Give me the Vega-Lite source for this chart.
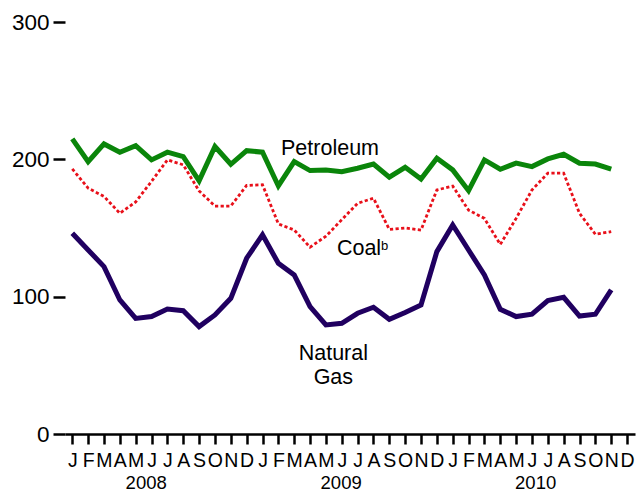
{
  "$schema": "https://vega.github.io/schema/vega-lite/v6.json",
  "autosize": {"type": "none"},
  "padding": {"left": 65, "top": 22, "right": 8, "bottom": 57},
  "width": 570,
  "height": 412,
  "config": {
    "view": {"stroke": null},
    "axis": {"grid": false},
    "font": "Liberation Sans"
  },
  "datasets": {
    "series": [
      {"series": "Petroleum", "month": 0, "value": 214.9},
      {"series": "Petroleum", "month": 1, "value": 198.3},
      {"series": "Petroleum", "month": 2, "value": 211.2},
      {"series": "Petroleum", "month": 3, "value": 205.2},
      {"series": "Petroleum", "month": 4, "value": 210.0},
      {"series": "Petroleum", "month": 5, "value": 199.6},
      {"series": "Petroleum", "month": 6, "value": 205.2},
      {"series": "Petroleum", "month": 7, "value": 202.0},
      {"series": "Petroleum", "month": 8, "value": 184.3},
      {"series": "Petroleum", "month": 9, "value": 209.3},
      {"series": "Petroleum", "month": 10, "value": 196.4},
      {"series": "Petroleum", "month": 11, "value": 206.3},
      {"series": "Petroleum", "month": 12, "value": 205.2},
      {"series": "Petroleum", "month": 13, "value": 180.6},
      {"series": "Petroleum", "month": 14, "value": 198.3},
      {"series": "Petroleum", "month": 15, "value": 191.8},
      {"series": "Petroleum", "month": 16, "value": 192.3},
      {"series": "Petroleum", "month": 17, "value": 191.0},
      {"series": "Petroleum", "month": 18, "value": 193.5},
      {"series": "Petroleum", "month": 19, "value": 196.6},
      {"series": "Petroleum", "month": 20, "value": 187.0},
      {"series": "Petroleum", "month": 21, "value": 194.2},
      {"series": "Petroleum", "month": 22, "value": 185.7},
      {"series": "Petroleum", "month": 23, "value": 200.8},
      {"series": "Petroleum", "month": 24, "value": 192.3},
      {"series": "Petroleum", "month": 25, "value": 177.2},
      {"series": "Petroleum", "month": 26, "value": 199.6},
      {"series": "Petroleum", "month": 27, "value": 192.8},
      {"series": "Petroleum", "month": 28, "value": 197.2},
      {"series": "Petroleum", "month": 29, "value": 194.7},
      {"series": "Petroleum", "month": 30, "value": 200.3},
      {"series": "Petroleum", "month": 31, "value": 203.7},
      {"series": "Petroleum", "month": 32, "value": 197.2},
      {"series": "Petroleum", "month": 33, "value": 196.6},
      {"series": "Petroleum", "month": 34, "value": 192.8},
      {"series": "Coal", "month": 0, "value": 193.0},
      {"series": "Coal", "month": 1, "value": 179.0},
      {"series": "Coal", "month": 2, "value": 173.0},
      {"series": "Coal", "month": 3, "value": 160.7},
      {"series": "Coal", "month": 4, "value": 169.0},
      {"series": "Coal", "month": 5, "value": 184.0},
      {"series": "Coal", "month": 6, "value": 199.6},
      {"series": "Coal", "month": 7, "value": 196.0},
      {"series": "Coal", "month": 8, "value": 177.0},
      {"series": "Coal", "month": 9, "value": 166.0},
      {"series": "Coal", "month": 10, "value": 166.0},
      {"series": "Coal", "month": 11, "value": 181.0},
      {"series": "Coal", "month": 12, "value": 181.5},
      {"series": "Coal", "month": 13, "value": 153.0},
      {"series": "Coal", "month": 14, "value": 148.6},
      {"series": "Coal", "month": 15, "value": 136.0},
      {"series": "Coal", "month": 16, "value": 144.0},
      {"series": "Coal", "month": 17, "value": 156.0},
      {"series": "Coal", "month": 18, "value": 168.0},
      {"series": "Coal", "month": 19, "value": 171.7},
      {"series": "Coal", "month": 20, "value": 149.0},
      {"series": "Coal", "month": 21, "value": 150.0},
      {"series": "Coal", "month": 22, "value": 148.5},
      {"series": "Coal", "month": 23, "value": 177.7},
      {"series": "Coal", "month": 24, "value": 180.5},
      {"series": "Coal", "month": 25, "value": 163.0},
      {"series": "Coal", "month": 26, "value": 157.0},
      {"series": "Coal", "month": 27, "value": 138.0},
      {"series": "Coal", "month": 28, "value": 157.0},
      {"series": "Coal", "month": 29, "value": 177.7},
      {"series": "Coal", "month": 30, "value": 189.9},
      {"series": "Coal", "month": 31, "value": 189.9},
      {"series": "Coal", "month": 32, "value": 160.7},
      {"series": "Coal", "month": 33, "value": 145.4},
      {"series": "Coal", "month": 34, "value": 147.4},
      {"series": "Natural Gas", "month": 0, "value": 146.2},
      {"series": "Natural Gas", "month": 1, "value": 134.0},
      {"series": "Natural Gas", "month": 2, "value": 121.9},
      {"series": "Natural Gas", "month": 3, "value": 97.6},
      {"series": "Natural Gas", "month": 4, "value": 84.2},
      {"series": "Natural Gas", "month": 5, "value": 85.5},
      {"series": "Natural Gas", "month": 6, "value": 91.0},
      {"series": "Natural Gas", "month": 7, "value": 89.8},
      {"series": "Natural Gas", "month": 8, "value": 78.2},
      {"series": "Natural Gas", "month": 9, "value": 86.7},
      {"series": "Natural Gas", "month": 10, "value": 98.8},
      {"series": "Natural Gas", "month": 11, "value": 128.0},
      {"series": "Natural Gas", "month": 12, "value": 145.0},
      {"series": "Natural Gas", "month": 13, "value": 124.3},
      {"series": "Natural Gas", "month": 14, "value": 115.8},
      {"series": "Natural Gas", "month": 15, "value": 92.7},
      {"series": "Natural Gas", "month": 16, "value": 79.4},
      {"series": "Natural Gas", "month": 17, "value": 80.6},
      {"series": "Natural Gas", "month": 18, "value": 87.9},
      {"series": "Natural Gas", "month": 19, "value": 92.3},
      {"series": "Natural Gas", "month": 20, "value": 83.5},
      {"series": "Natural Gas", "month": 21, "value": 88.4},
      {"series": "Natural Gas", "month": 22, "value": 94.0},
      {"series": "Natural Gas", "month": 23, "value": 132.8},
      {"series": "Natural Gas", "month": 24, "value": 152.2},
      {"series": "Natural Gas", "month": 25, "value": 134.0},
      {"series": "Natural Gas", "month": 26, "value": 115.8},
      {"series": "Natural Gas", "month": 27, "value": 90.8},
      {"series": "Natural Gas", "month": 28, "value": 85.5},
      {"series": "Natural Gas", "month": 29, "value": 87.2},
      {"series": "Natural Gas", "month": 30, "value": 97.1},
      {"series": "Natural Gas", "month": 31, "value": 99.5},
      {"series": "Natural Gas", "month": 32, "value": 85.9},
      {"series": "Natural Gas", "month": 33, "value": 87.2},
      {"series": "Natural Gas", "month": 34, "value": 104.9}
    ],
    "labels": [
      {"label": "Petroleum", "month": 16.26, "value": 207.4},
      {"label": "Coal", "month": 18.09, "value": 134.6},
      {"label": ["Natural", "Gas"], "month": 16.47, "value": 58.2}
    ]
  },
  "resolve": {"axis": {"x": "independent"}},
  "encoding": {
    "y": {
      "field": "value", "type": "quantitative",
      "scale": {"domain": [0, 300], "nice": false},
      "axis": {
        "title": null, "values": [0, 100, 200, 300],
        "domain": false,
        "tickColor": "#000", "tickWidth": 2.5, "tickSize": 12,
        "labelFontSize": 22.5, "labelColor": "#000", "labelPadding": 4
      }
    }
  },
  "layer": [
    {
      "data": {"name": "series"},
      "transform": [{"filter": "datum.series === 'Coal'"}],
      "mark": {"type": "line", "color": "#e8101a", "strokeWidth": 2.8, "strokeDash": [3.2, 2.4], "strokeCap": "butt"},
      "encoding": {
        "x": {
          "field": "month", "type": "quantitative",
          "scale": {"domain": [-0.46, 35.5], "nice": false, "zero": false},
          "axis": {
            "orient": "bottom",
            "title": null,
            "values": [0,1,2,3,4,5,6,7,8,9,10,11,12,13,14,15,16,17,18,19,20,21,22,23,24,25,26,27,28,29,30,31,32,33,34,35],
            "labelExpr": "['J','F','M','A','M','J','J','A','S','O','N','D'][datum.value % 12]",
            "domainColor": "#000", "domainWidth": 2.6,
            "tickColor": "#000", "tickWidth": 2.5, "tickSize": 10,
            "labelFont": "'Liberation Sans Narrow', 'Liberation Sans'",
            "labelFontSize": 19.5, "labelColor": "#000", "labelPadding": 7,
            "labelOverlap": false, "labelFlush": false
          }
        }
      }
    },
    {
      "data": {"name": "series"},
      "transform": [{"filter": "datum.series === 'Natural Gas'"}],
      "mark": {"type": "line", "color": "#200060", "strokeWidth": 5, "strokeJoin": "miter"},
      "encoding": {
        "x": {"field": "month", "type": "quantitative", "axis": null}
      }
    },
    {
      "data": {"name": "series"},
      "transform": [{"filter": "datum.series === 'Petroleum'"}],
      "mark": {"type": "line", "color": "#0a850a", "strokeWidth": 5, "strokeJoin": "miter"},
      "encoding": {
        "x": {"field": "month", "type": "quantitative", "axis": null}
      }
    },
    {
      "data": {"name": "labels"},
      "mark": {"type": "text", "fontSize": 21.5, "color": "#000", "align": "center", "baseline": "middle", "lineHeight": 24.2},
      "encoding": {
        "x": {
          "field": "month", "type": "quantitative",
          "axis": {
            "orient": "bottom", "title": null,
            "values": [4.63, 16.93, 29.2],
            "labelExpr": "datum.value < 10 ? '2008' : datum.value < 20 ? '2009' : '2010'",
            "domain": false, "ticks": false, "tickSize": 0,
            "labelFontSize": 18.5, "labelColor": "#000", "labelPadding": 39,
            "labelOverlap": false, "labelFlush": false
          }
        },
        "text": {"field": "label"}
      }
    },
    {
      "data": {"name": "labels"},
      "transform": [{"filter": "datum.label === 'Coal'"}],
      "mark": {"type": "text", "fontSize": 13, "color": "#000", "align": "left", "baseline": "alphabetic", "dx": 22, "dy": 1},
      "encoding": {
        "x": {"field": "month", "type": "quantitative", "axis": null},
        "text": {"value": "b"}
      }
    }
  ]
}
